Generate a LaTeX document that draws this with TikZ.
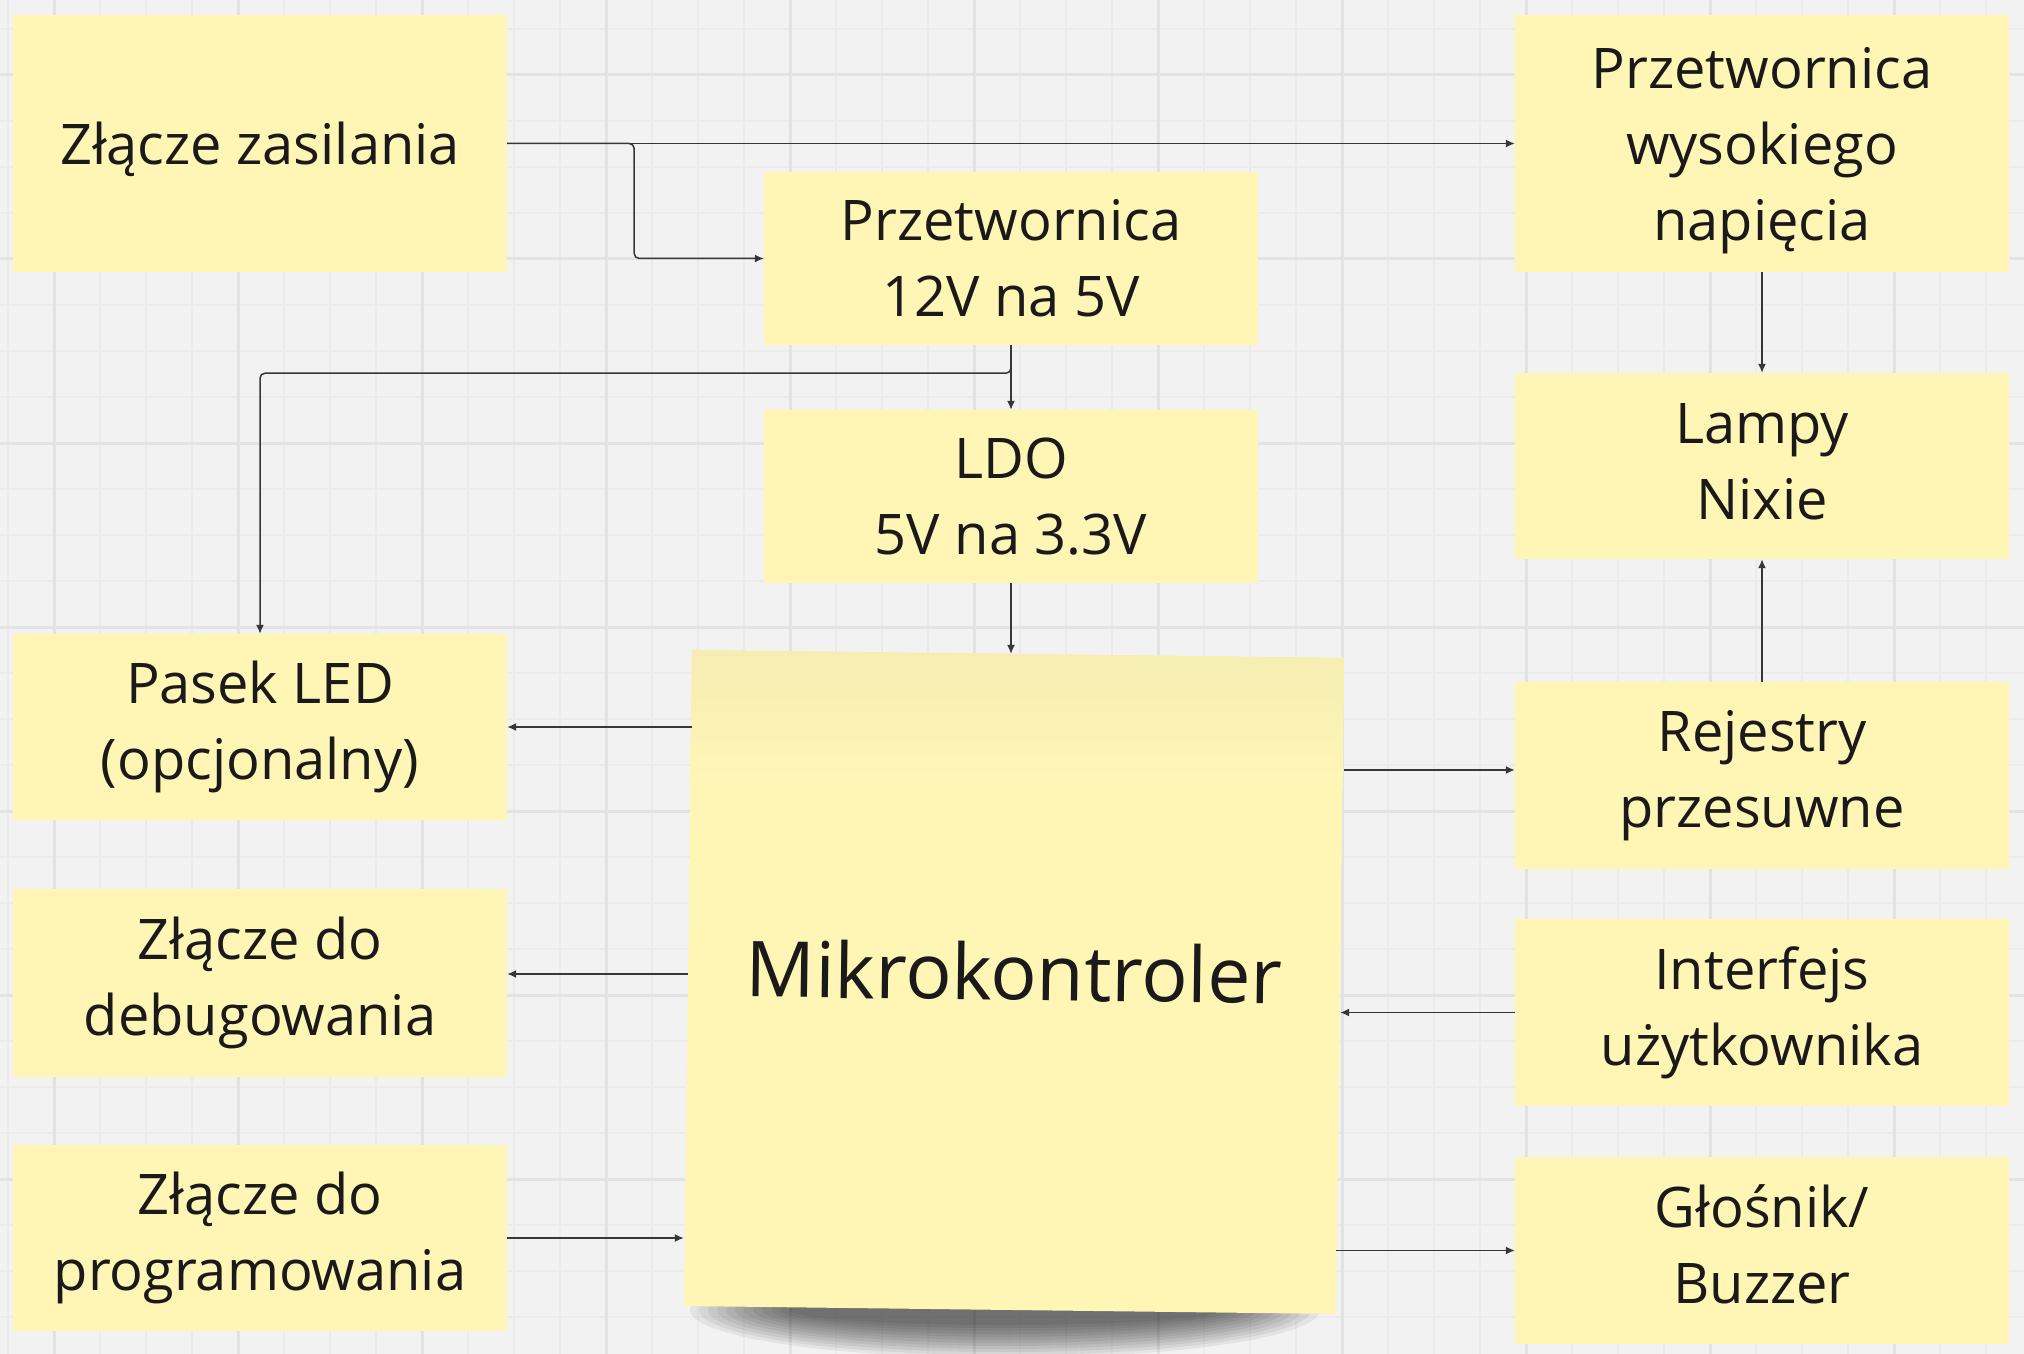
\documentclass[tikz,border=0pt]{standalone}
\usepackage{fontspec}
\setmainfont{Open Sans}
\usetikzlibrary{arrows.meta,calc}
\definecolor{stickycol}{RGB}{255,246,182}
\definecolor{foldcol}{RGB}{245,237,178}
\definecolor{canvascol}{RGB}{242,242,242}
\definecolor{gridcol}{RGB}{235,235,235}
\definecolor{gridmajcol}{RGB}{227,227,227}
\definecolor{edgecol}{RGB}{55,55,55}
\definecolor{textcol}{RGB}{26,26,26}
\tikzset{
  stickytext/.style={text=textcol, align=center, inner sep=0pt,
    font=\fontsize{56bp}{76bp}\selectfont},
  sticky/.style={stickytext, fill=stickycol,
    minimum width=494bp, minimum height=186bp},
  link/.style={->, draw=edgecol, line width=1.5bp, rounded corners=5bp},
}
\begin{document}
\begin{tikzpicture}[x=1bp,y=-1bp,>={Latex[length=9bp,width=8bp]},line join=bevel,]
%%
\fill[canvascol] (0,0) rectangle (2024,1354);
\useasboundingbox (0,0) rectangle (2024,1354);
  % Grid
\foreach \i in {0,...,43} \draw[gridcol, line width=2bp] ({8+46*\i},0) -- ({8+46*\i},1354);
\foreach \i in {0,...,28} \draw[gridcol, line width=2bp] (0,{29+46*\i}) -- (2024,{29+46*\i});
\foreach \i in {0,...,10} \draw[gridmajcol, line width=3bp] ({54+184*\i},0) -- ({54+184*\i},1354);
\foreach \i in {0,...,6} \draw[gridmajcol, line width=3bp] (0,{75+184*\i}) -- (2024,{75+184*\i});
  % Shadow under the big note
\foreach \k in {0,...,11} \fill[black, opacity=0.06] (1005,1310) ellipse ({315-9*\k} and {48-3*\k});
%
  % Node: zz
\node[sticky, minimum height=257bp,
  label={[stickytext, yshift=-6bp]center:Złącze zasilania}] (zz) at (260,143.5) {};
  % Node: hv
\node[sticky, minimum height=257bp,
  label={[stickytext, yshift=-7bp]center:Przetwornica\\wysokiego\\napięcia}] (hv) at (1762,143.5) {};
  % Node: buck
\node[sticky, minimum height=173bp] (buck) at (1011,258.5) {Przetwornica\\12V na 5V};
  % Node: ldo
\node[sticky, minimum height=173bp] (ldo) at (1011,496.5) {LDO\\5V na 3.3V};
  % Node: led
\node[sticky] (led) at (260,727) {Pasek LED\\(opcjonalny)};
  % Node: dbg
\node[sticky, minimum height=188bp] (dbg) at (260,983) {Złącze do\\debugowania};
  % Node: prog
\node[sticky] (prog) at (260,1238) {Złącze do\\programowania};
  % Node: nixie
\node[sticky, label={[stickytext, yshift=4bp]center:Lampy\\Nixie}] (nixie) at (1762,466) {};
  % Node: shreg
\node[sticky, minimum height=187bp] (shreg) at (1762,775.5) {Rejestry\\przesuwne};
  % Node: ui
\node[sticky, minimum height=187bp] (ui) at (1762,1012.5) {Interfejs\\użytkownika};
  % Node: buzz
\node[sticky, minimum height=187bp,
  label={[stickytext, yshift=6bp]center:Głośnik/\\Buzzer}] (buzz) at (1762,1250.5) {};
  % Node: mcu
\node[sticky, rotate=-0.7, minimum width=652bp, minimum height=656bp, text depth=22bp,
  font=\fontsize{77bp}{100bp}\selectfont] (mcu) at (1014,982) {Mikrokontroler};
\shade[top color=foldcol, bottom color=stickycol] (mcu.north west) -- (mcu.north east)
  -- ($(mcu.north east)!0.2!(mcu.south east)$) -- ($(mcu.north west)!0.2!(mcu.south west)$) -- cycle;
%
  % Edge: zz -> hv
\draw[link] (zz.east) -- (hv.west);
  % Edge: zz -> buck
\draw[link] (zz.east) -- ++(127,0) |- (buck.west);
  % Edge: buck -> ldo
\draw[link] (buck.south) -- (ldo.north);
  % Edge: buck -> led
\draw[link] (buck.south) -- ++(0,28) -| (led.north);
  % Edge: ldo -> mcu
\draw[link] (ldo.south) -- (mcu.north -| ldo.south);
  % Edge: mcu -> led
\draw[link] (led.east -| mcu.north west) -- (led.east);
  % Edge: mcu -> dbg
\draw[link] ([yshift=9bp]dbg.east -| mcu.west) -- ([yshift=9bp]dbg.east);
  % Edge: prog -> mcu
\draw[link] (prog.east) -- (prog.east -| mcu.south west);
  % Edge: mcu -> shreg
\draw[link] ([yshift=5.5bp]shreg.west -| mcu.north east) -- ([yshift=5.5bp]shreg.west);
  % Edge: ui -> mcu
\draw[link] (ui.west) -- (ui.west -| mcu.east);
  % Edge: mcu -> buzz
\draw[link] (buzz.west -| mcu.south east) -- (buzz.west);
  % Edge: hv -> nixie
\draw[link] (hv.south) -- (nixie.north);
  % Edge: shreg -> nixie
\draw[link] (shreg.north) -- (nixie.south);
%
\end{tikzpicture}
\end{document}
